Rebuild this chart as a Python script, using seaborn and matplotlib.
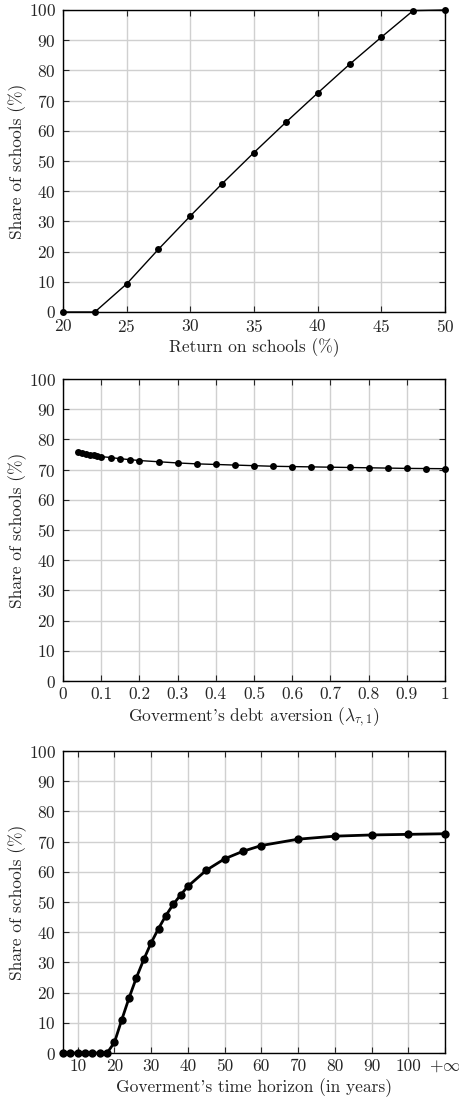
import numpy as np
import pandas as pd
import matplotlib
matplotlib.use('Agg')
import matplotlib.pyplot as plt
import seaborn as sns

# Panel 1: return on schools
ret_x = [20, 22.5, 25, 27.5, 30, 32.5, 35, 37.5, 40, 42.5, 45, 47.5, 50]
ret_y = [0, 0, 9.3, 20.8, 31.8, 42.5, 52.8, 62.8, 72.5, 82.0, 91.0, 99.8, 100]

# Panel 2: debt aversion
debt_x = [0.04, 0.05, 0.06, 0.07, 0.08, 0.09, 0.10, 0.125, 0.15, 0.175, 0.20,
          0.25, 0.30, 0.35, 0.40, 0.45, 0.50, 0.55, 0.60, 0.65, 0.70, 0.75,
          0.80, 0.85, 0.90, 0.95, 1.00]
debt_y = [75.7, 75.4, 75.1, 74.9, 74.7, 74.5, 74.3, 74.0, 73.6, 73.3, 73.0,
          72.6, 72.2, 71.9, 71.7, 71.5, 71.3, 71.1, 71.0, 70.9, 70.8, 70.7,
          70.6, 70.5, 70.4, 70.35, 70.3]

# Panel 3: time horizon (last point is +inf, drawn at 110)
hor_x = [6, 8, 10, 12, 14, 16, 18, 20, 22, 24, 26, 28, 30, 32, 34, 36, 38, 40,
         45, 50, 55, 60, 70, 80, 90, 100, 110]
hor_y = [0, 0, 0, 0, 0, 0, 0, 3.5, 11.0, 18.3, 25.0, 31.0, 36.5, 41.2, 45.5,
         49.2, 52.3, 55.2, 60.5, 64.3, 66.8, 68.7, 70.8, 71.8, 72.2, 72.4, 72.6]
hor_ticks = [10, 20, 30, 40, 50, 60, 70, 80, 90, 100, 110]
hor_labels = ['10', '20', '30', '40', '50', '60', '70', '80', '90', '100', r'$+\infty$']

sns.set_style('ticks')
plt.rcParams['font.family'] = ['cmr10']
plt.rcParams['mathtext.fontset'] = 'cm'
plt.rcParams['axes.formatter.use_mathtext'] = True

FS = 12.5

fig = plt.figure(figsize=(4.59, 11), dpi=100)
W, H = 459, 1100
boxes = [(10, 312), (379, 681), (751, 1053)]
axes = [fig.add_axes([63 / W, 1 - b / H, 382 / W, (b - t) / H]) for t, b in boxes]

def style(ax):
    ax.set_ylim(0, 100)
    ax.set_yticks(range(0, 101, 10))
    ax.grid(True, color='#d0d0d0', linewidth=1.0)
    ax.set_axisbelow(True)
    for s in ax.spines.values():
        s.set_color('black')
        s.set_linewidth(1.0)
    ax.tick_params(direction='in', top=True, right=True, length=4, width=0.8,
                   labelsize=FS)
    ax.tick_params(axis='y', pad=5)
    ax.tick_params(axis='x', pad=4)
    ax.set_ylabel('Share of schools (%)', fontsize=FS, labelpad=1)

ax = axes[0]
sns.lineplot(x=ret_x, y=ret_y, ax=ax, color='black', linewidth=1.0,
             marker='o', markersize=5, markeredgewidth=0)
ax.set_xlim(20, 50)
ax.set_xticks(range(20, 51, 5))
style(ax)
ax.set_xlabel('Return on schools (%)', fontsize=FS, labelpad=3)

ax = axes[1]
sns.lineplot(x=debt_x, y=debt_y, ax=ax, color='black', linewidth=1.0,
             marker='o', markersize=5, markeredgewidth=0)
ax.set_xlim(0, 1)
ax.set_xticks(np.round(np.arange(0, 1.01, 0.1), 1))
ax.set_xticklabels(['0', '0.1', '0.2', '0.3', '0.4', '0.5', '0.6', '0.7', '0.8', '0.9', '1'])
style(ax)
ax.set_xlabel(r"Goverment's debt aversion ($\lambda_{\tau,1}$)", fontsize=FS, labelpad=3)

ax = axes[2]
sns.lineplot(x=hor_x, y=hor_y, ax=ax, color='black', linewidth=2.0,
             marker='o', markersize=6, markeredgewidth=0)
ax.set_xlim(6, 110)
ax.set_xticks(hor_ticks)
ax.set_xticklabels(hor_labels)
style(ax)
ax.set_xlabel("Goverment's time horizon (in years)", fontsize=FS, labelpad=3)

for a in axes:
    for ln in a.lines:
        ln.set_clip_on(False)

fig.savefig('out.png', dpi=100)
